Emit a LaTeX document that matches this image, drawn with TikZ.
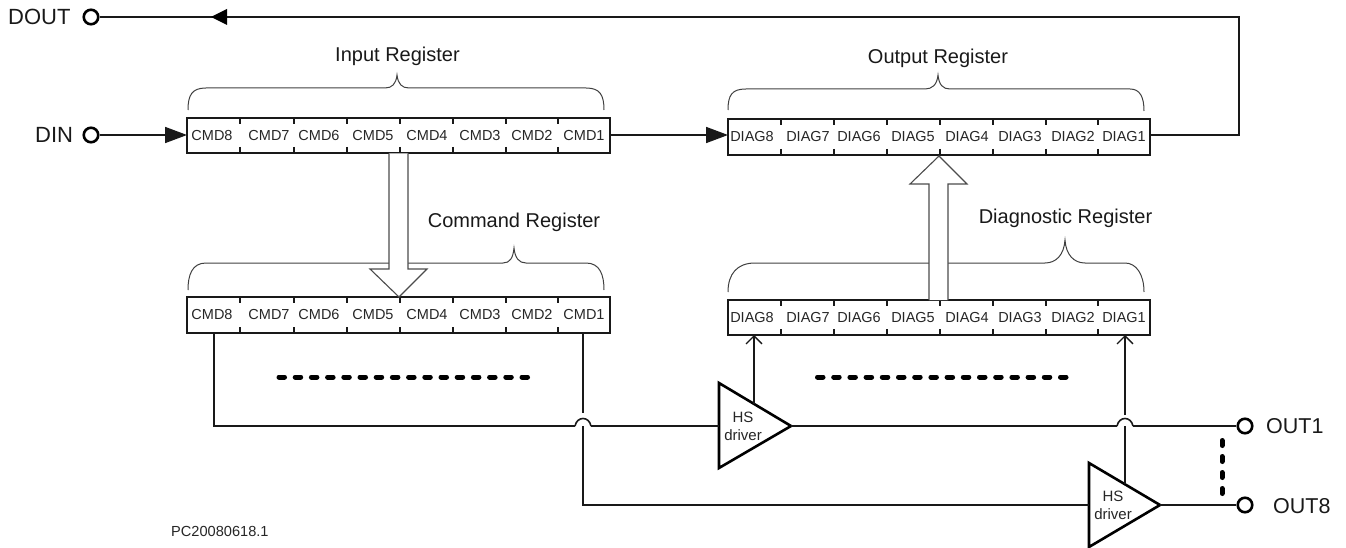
\documentclass[tikz,border=0pt]{standalone}
\usepackage{fontspec}
\setmainfont{Liberation Sans}
\usetikzlibrary{arrows.meta,calc}
\tikzset{
  x=1pt,y=-1pt,
  wire/.style={line width=1.6pt,draw=black!90},
  solidtip/.style={-{Triangle[length=22pt,width=16pt]}},
  regbox/.style={draw=black!90,line width=1.7pt,rectangle,inner sep=0pt,outer sep=0pt,anchor=north west},
  cell/.style={font=\fontsize{14.5}{16}\selectfont,inner sep=0pt,text=black!85},
  tick/.style={line width=1.4pt,draw=black!90},
  brace/.style={line width=1pt,draw=black!75},
  reglabel/.style={font=\fontsize{20}{22}\selectfont,inner sep=0pt,text=black!90},
  pin/.style={circle,draw=black,line width=2.6pt,fill=white,minimum size=14.5pt,inner sep=0pt},
  pinlabel/.style={font=\fontsize{22}{24}\selectfont,inner sep=0pt,text=black!90},
  outlabel/.style={font=\fontsize{21.5}{24}\selectfont,inner sep=0pt,text=black!90},
  hollow/.style={draw=black!70,line width=1.1pt,fill=white},
  drv/.style={draw=black,line width=2.6pt,line join=miter,fill=white},
  drvtext/.style={font=\fontsize{15}{18}\selectfont,align=center,inner sep=0pt,text=black!85},
  thickdash/.style={line width=5pt,draw=black,line cap=round,dash pattern=on 5.5pt off 10.7pt},
  vertdash/.style={line width=5pt,draw=black,line cap=round,dash pattern=on 5pt off 11pt},
  openarrow/.style={-{Straight Barb[length=8pt,width=16pt,line width=1.3pt]}},
}
\begin{document}
\begin{tikzpicture}
\useasboundingbox (0,0) rectangle (1346,548);

% registers
\node[regbox,minimum width=423pt,minimum height=35pt] (inreg) at (187,118) {};
\node[regbox,minimum width=423pt,minimum height=36pt] (cmdreg) at (187,297) {};
\node[regbox,minimum width=422pt,minimum height=36pt] (outreg) at (728,119) {};
\node[regbox,minimum width=422pt,minimum height=35pt] (diagreg) at (728,300) {};

\foreach \reg/\yt/\yb in {inreg/118/153,cmdreg/297/333}{
  \foreach \tx in {240,294,347,400,453,506,558}{
    \draw[tick] (\tx,\yt) -- (\tx,\yt+6);
    \draw[tick] (\tx,\yb-6) -- (\tx,\yb);
  }
  \foreach \cx/\n/\lab in {212/a/CMD8,269/b/CMD7,319/c/CMD6,373/d/CMD5,427/e/CMD4,480/f/CMD3,532/g/CMD2,584/h/CMD1}{
    \node[cell] (\reg\n) at (\cx,\yt+18) {\lab};
  }
}
\foreach \reg/\yt/\yb in {outreg/119/155,diagreg/300/335}{
  \foreach \tx in {781,834,887,940,993,1046,1098}{
    \draw[tick] (\tx,\yt) -- (\tx,\yt+6);
    \draw[tick] (\tx,\yb-6) -- (\tx,\yb);
  }
  \foreach \cx/\n/\lab in {752/a/DIAG8,808/b/DIAG7,859/c/DIAG6,913/d/DIAG5,967/e/DIAG4,1020/f/DIAG3,1073/g/DIAG2,1124/h/DIAG1}{
    \node[cell] (\reg\n) at (\cx,\yt+17.5) {\lab};
  }
}

% braces
\draw[brace] (188,110) .. controls (188,95) and (192,88) .. (206,88) -- (385,88) .. controls (392,88) and (396,84) .. (397,75) .. controls (398,84) and (402,88) .. (409,88) -- (586,88) .. controls (600,88) and (604,95) .. (604,110);
\draw[brace] (188,290) .. controls (188,275) and (192,263) .. (206,263) -- (503,263) .. controls (510,263) and (513,258) .. (514,248) .. controls (515,258) and (519,263) .. (526,263) -- (586,263) .. controls (600,263) and (604,275) .. (604,290);
\draw[brace] (728,110) .. controls (728,95) and (732,89) .. (746,89) -- (925,89) .. controls (932,89) and (937,85) .. (938,75) .. controls (939,85) and (943,89) .. (950,89) -- (1130,89) .. controls (1140,89) and (1144,97) .. (1144,111);
\draw[brace] (728,292) .. controls (728,274) and (737,263) .. (755,263) -- (1045,263) .. controls (1056,263) and (1064,255) .. (1065,240) .. controls (1066,255) and (1074,263) .. (1085,263) -- (1125,263) .. controls (1136,263) and (1144,274) .. (1144,292);

\node[reglabel] (lin) at (397.5,56) {Input Register};
\node[reglabel] (lcmd) at (514,222) {Command Register};
\node[reglabel] (lout) at (938,58) {Output Register};
\node[reglabel] (ldiag) at (1065.5,218) {Diagnostic Register};

% hollow arrows
\draw[hollow] (389,153.5) -- (389,269) -- (370,269) -- (399,297) -- (427,269) -- (408,269) -- (408,153.5);
\draw[hollow] (929,300) -- (929,184) -- (910,184) -- (939,156) -- (967,184) -- (948,184) -- (948,300);

% pins
\node[pin] (dout) at (91,17) {};
\node[pin] (din) at (91,135) {};
\node[pin] (out1) at (1245,426) {};
\node[pin] (out8) at (1245,505) {};
\node[pinlabel,anchor=west] (ldout) at (8,17) {DOUT};
\node[pinlabel,anchor=west] (ldin) at (35,135) {DIN};
\node[outlabel,anchor=west] (lout1) at (1266,426) {OUT1};
\node[outlabel,anchor=west] (lout8) at (1273,506) {OUT8};

% top-level wires
\coordinate (dturnb) at (1239,135);
\coordinate (dturnt) at (1239,17);
\draw[wire] (outreg.east |- dturnb) -- (dturnb) -- (dturnt) -- (dout.east);
\fill[black] (211,17) -- (227,9) -- (227,25) -- cycle;
\draw[wire,solidtip] (din.east) -- (inreg.west |- din);
\draw[wire,solidtip] (inreg.east |- dturnb) -- (outreg.west |- dturnb);

% drivers
\draw[drv] (719,383) -- (791,426) -- (719,468) -- cycle;
\node[drvtext] (hs1) at (743,426) {HS\\driver};
\coordinate (tri1l) at (719,426);
\coordinate (tri1r) at (791,426);
\coordinate (tri1t) at (754,404);
\draw[drv] (1089,463) -- (1160,505) -- (1089,547) -- cycle;
\node[drvtext] (hs2) at (1113,505) {HS\\driver};
\coordinate (tri2l) at (1089,505);
\coordinate (tri2r) at (1160,505);
\coordinate (tri2t) at (1125,484);

% driver wires
\coordinate (c8) at (214,333);
\coordinate (c8b) at (214,426);
\coordinate (c1) at (583,333);
\coordinate (c1a) at (583,413);
\coordinate (c1b) at (583,426);
\coordinate (c1c) at (583,505);
\coordinate (j1l) at (575,426);
\coordinate (j1r) at (591,426);
\coordinate (j2l) at (1117,426);
\coordinate (j2r) at (1133,426);
\coordinate (d2a) at (1125,415);
\coordinate (d2b) at (1125,426);
\draw[wire,line join=miter] (c8) -- (c8b) -- (j1l);
\draw[wire] (j1l) .. controls (577,416) and (589,416) .. (j1r);
\draw[wire] (j1r) -- (tri1l);
\draw[wire] (c1) -- (c1a);
\draw[wire] (c1b) -- (c1c) -- (tri2l);
\draw[wire] (tri1r) -- (j2l);
\draw[wire] (j2l) .. controls (1119,416) and (1131,416) .. (j2r);
\draw[wire] (j2r) -- (out1.west);
\draw[wire] (tri2r) -- (out8.west);
\draw[wire,openarrow] (tri1t) -- (tri1t |- diagreg.south);
\draw[wire] (tri2t) -- (d2b);
\draw[wire,openarrow] (d2a) -- (d2a |- diagreg.south);

% continuation marks
\coordinate (m1a) at (279,377);
\coordinate (m1b) at (528.5,377);
\coordinate (m2a) at (817.5,377);
\coordinate (m2b) at (1067,377);
\coordinate (m3a) at (1222,440.5);
\coordinate (m3b) at (1222,494);
\draw[thickdash] (m1a) -- (m1b);
\draw[thickdash] (m2a) -- (m2b);
\draw[vertdash] (m3a) -- (m3b);

\node[font=\fontsize{14.6}{16}\selectfont,anchor=west,inner sep=0pt,text=black!85] (ref) at (171,531) {PC20080618.1};
\end{tikzpicture}
\end{document}
